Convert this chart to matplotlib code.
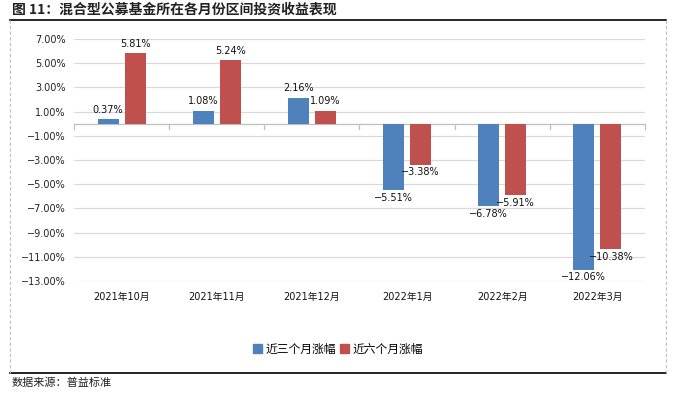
import matplotlib
matplotlib.use("Agg")
import matplotlib.pyplot as plt
from matplotlib.lines import Line2D
import numpy as np

plt.rcParams['font.family'] = ['DejaVu Sans', 'Noto Sans CJK SC']
CJK = ['Noto Sans CJK SC', 'DejaVu Sans']

title = "图 11：混合型公募基金所在各月份区间投资收益表现"
source = "数据来源：普益标准"
categories = ["2021年10月", "2021年11月", "2021年12月", "2022年1月", "2022年2月", "2022年3月"]
series_names = ["近三个月涨幅", "近六个月涨幅"]
three_month = [0.37, 1.08, 2.16, -5.51, -6.78, -12.06]
six_month = [5.81, 5.24, 1.09, -3.38, -5.91, -10.38]
yticks = [7, 5, 3, 1, -1, -3, -5, -7, -9, -11, -13]

blue = "#4F81BD"
red = "#C0504D"
grid_c = "#D9D9D9"


def pct(v):
    return f"{v:.2f}%".replace("-", "\u2212")


W, H = 677, 393
fig = plt.figure(figsize=(W / 100, H / 100), dpi=100)

ax = fig.add_axes([74 / W, 1 - 281 / H, (645 - 74) / W, (281 - 39) / H])
x = np.arange(len(categories))
bw = 0.22
off = 0.142
b1 = ax.bar(x - off, three_month, bw, color=blue, zorder=3)
b2 = ax.bar(x + off, six_month, bw, color=red, zorder=3)

ax.set_xlim(-0.5, len(categories) - 0.5)
ax.set_ylim(-13, 7)
ax.set_yticks(yticks)
ax.set_yticklabels([pct(v) for v in yticks], fontsize=7, color="#222222")
ax.yaxis.grid(True, color=grid_c, lw=0.9, zorder=0)
ax.set_xticks(x)
ax.set_xticklabels(categories, fontsize=7, color="#111111")
ax.tick_params(axis='both', length=0)
ax.tick_params(axis='x', pad=8)
ax.tick_params(axis='y', pad=6)
for s in ax.spines.values():
    s.set_visible(False)

# category axis at zero with boundary tick marks
ax.axhline(0, color="#BFBFBF", lw=0.9, zorder=2)
for b in np.arange(len(categories) + 1) - 0.5:
    ax.plot([b, b], [0, -0.42], color="#BFBFBF", lw=0.9, zorder=2, clip_on=False)


def label(bars, vals):
    for r, v in zip(bars, vals):
        cx = r.get_x() + r.get_width() / 2
        if v >= 0:
            ax.annotate(pct(v), (cx, v), xytext=(0, 3), textcoords="offset points",
                        ha="center", va="bottom", fontsize=7, color="#111111", zorder=4)
        else:
            ax.annotate(pct(v), (cx, v), xytext=(0, -2), textcoords="offset points",
                        ha="center", va="top", fontsize=7, color="#111111", zorder=4)


label(b1, three_month)
label(b2, six_month)

handles = [plt.Rectangle((0, 0), 1, 1, color=blue), plt.Rectangle((0, 0), 1, 1, color=red)]
fig.legend(handles, series_names, loc="center", bbox_to_anchor=(338 / W, 1 - 349 / H),
           ncol=2, frameon=False, prop={'family': CJK, 'size': 8.5}, handlelength=0.7,
           handleheight=0.7, handletextpad=0.3, columnspacing=0.4)

# frame decorations
fig.add_artist(Line2D([10 / W, 666 / W], [1 - 20 / H, 1 - 20 / H], color="black", lw=1.2,
                      transform=fig.transFigure))
fig.add_artist(Line2D([10 / W, 666 / W], [1 - 373 / H, 1 - 373 / H], color="black", lw=1.2,
                      transform=fig.transFigure))
for xx in (10, 666):
    fig.add_artist(Line2D([xx / W, xx / W], [1 - 20 / H, 1 - 373 / H], color="#BFBFBF",
                          lw=0.8, ls=(0, (3, 2)), transform=fig.transFigure))

fig.text(12 / W, 1 - 10 / H, title, fontsize=10, fontweight="bold", color="#222222",
         ha="left", va="center", family=CJK)
fig.text(12 / W, 1 - 383 / H, source, fontsize=8, color="#222222", ha="left", va="center",
         family=CJK)

fig.savefig("out.png", dpi=100)
